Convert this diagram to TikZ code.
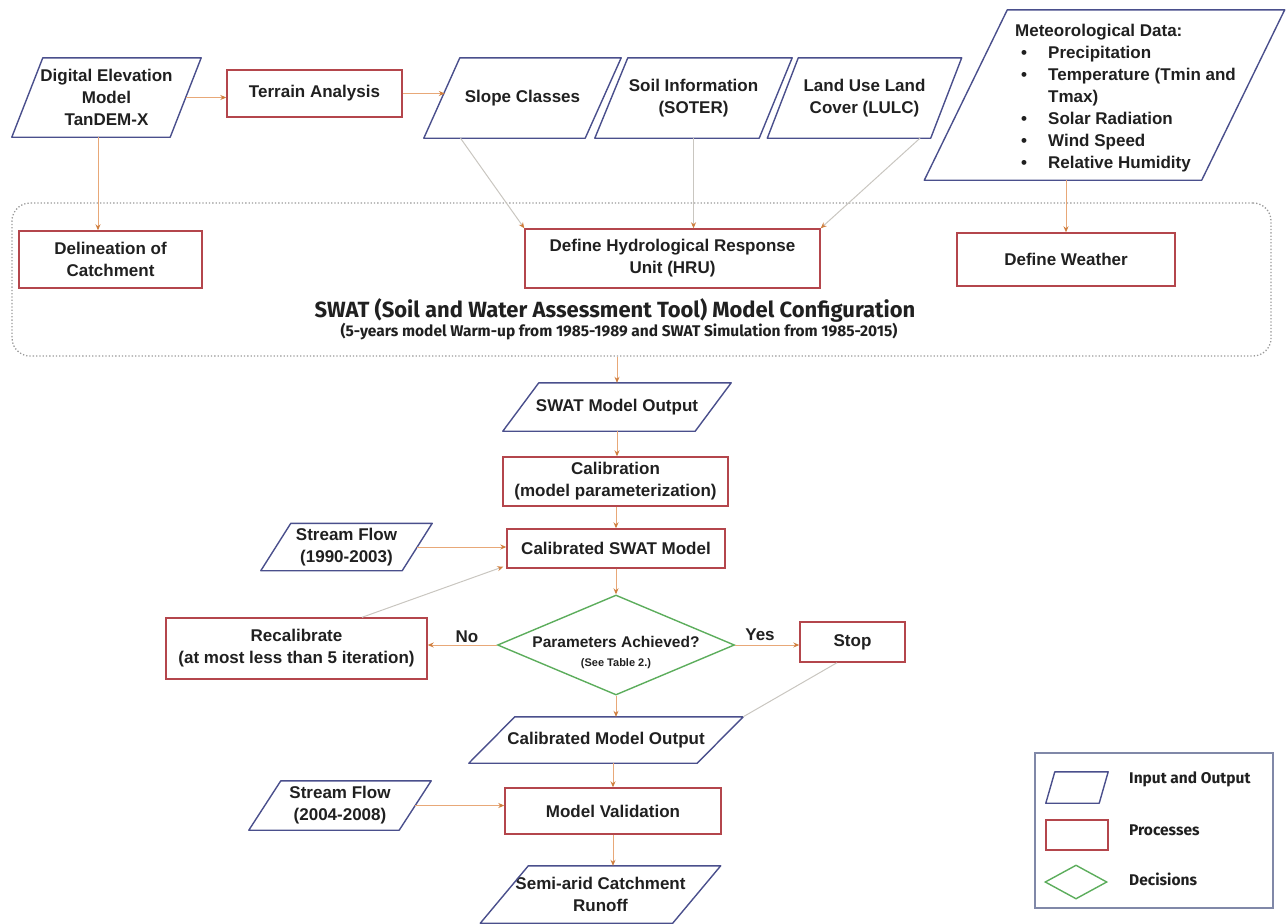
\documentclass[tikz,border=0pt]{standalone}
\usepackage{fontspec}
\setmainfont{Liberation Sans}
\newfontfamily\titlefont{Fira Sans}
\usetikzlibrary{arrows.meta,shapes.geometric,calc}
\definecolor{ionavy}{HTML}{4A4F8C}
\definecolor{procred}{HTML}{B4464C}
\definecolor{decgreen}{HTML}{5CAD5C}
\definecolor{arrline}{HTML}{E8A878}
\definecolor{arrtip}{HTML}{CF7E3E}
\definecolor{faint}{HTML}{C9C6C0}
\definecolor{txt}{HTML}{202020}
\definecolor{dotgray}{HTML}{9A9A9A}
\definecolor{legbord}{HTML}{8088A8}
\newcommand{\mf}{\fontsize{17}{22}\selectfont\bfseries}
\newcommand{\lf}{\titlefont\bfseries\fontsize{15.5}{18}\selectfont}
\newcommand{\ioshape}[2]{\draw[iobord] ($(#1.south west)+(-#2,0)$) -- ($(#1.south east)+(-#2,0)$) -- ($(#1.north east)+(#2,0)$) -- ($(#1.north west)+(#2,0)$) -- cycle;}
\begin{document}
\begin{tikzpicture}[x=1pt,y=-1pt,
  every node/.style={text=txt},
  proc/.style={draw=procred, line width=1.4pt, align=center, inner sep=2pt, font=\mf},
  io/.style={draw=none, align=center, inner sep=0pt, font=\mf},
  iobord/.style={draw=ionavy, line width=1.4pt, line join=round},
  dec/.style={diamond, draw=decgreen, line width=1.4pt, inner sep=0pt},
  arr/.style={draw=arrline, line width=1pt, -{Stealth[length=6pt,width=5pt,color=arrtip]}},
  faintarr/.style={draw=faint, line width=1pt, -{Stealth[length=6pt,width=5pt,color=arrtip]}},
  faintline/.style={draw=faint, line width=1pt}]
\useasboundingbox (0,0) rectangle (1286,924);

% configuration box
\node[draw=dotgray, dotted, line width=1.3pt, rounded corners=18pt, minimum width=1259, minimum height=153, inner sep=0] (cfg) at (641.5,279.5) {};

% top row
\node[io, minimum width=158, minimum height=79] (dem) at (106.5,97.5) {Digital Elevation\\Model\\TanDEM-X};
\ioshape{dem}{15.5}
\node[proc, minimum width=175, minimum height=47] (ter) at (314.5,93.5) {Terrain Analysis};
\node[io, minimum width=161, minimum height=80] (slope) at (522.5,98) {Slope Classes};
\ioshape{slope}{18}
\node[io, minimum width=164, minimum height=80] (soil) at (693.5,98) {Soil Information\\(SOTER)};
\ioshape{soil}{16.5}
\node[io, minimum width=163, minimum height=80] (lulc) at (864.5,98) {Land Use Land\\Cover (LULC)};
\ioshape{lulc}{15.5}
\node[io, minimum width=277, minimum height=170] (met) at (1104.5,95) {};
\ioshape{met}{41.5}
\node[anchor=north west, align=left, font=\mf, inner sep=0] (mettxt) at (1015,23.5) {Meteorological Data:\\
\hspace*{6pt}\makebox[27pt][l]{\textbullet}Precipitation\\
\hspace*{6pt}\makebox[27pt][l]{\textbullet}Temperature (Tmin and\\
\hspace*{33pt}Tmax)\\
\hspace*{6pt}\makebox[27pt][l]{\textbullet}Solar Radiation\\
\hspace*{6pt}\makebox[27pt][l]{\textbullet}Wind Speed\\
\hspace*{6pt}\makebox[27pt][l]{\textbullet}Relative Humidity};

% configuration contents
\node[proc, minimum width=183, minimum height=57] (del) at (110.5,259.5) {Delineation of\\Catchment};
\node[proc, minimum width=295, minimum height=59] (hru) at (672.5,258.5) {Define Hydrological Response\\Unit (HRU)};
\node[proc, minimum width=218, minimum height=53] (weather) at (1066,259.5) {Define Weather};
\node[font=\titlefont\bfseries\fontsize{22}{24}\selectfont, inner sep=0] (title) at (615,310) {SWAT (Soil and Water Assessment Tool) Model Configuration};
\node[font=\titlefont\bfseries\fontsize{15.5}{17}\selectfont, inner sep=0] (subtitle) at (619,332) {(5-years model Warm-up from 1985-1989 and SWAT Simulation from 1985-2015)};

% lower flow
\node[io, minimum width=192, minimum height=48] (swout) at (617,407) {SWAT Model Output};
\ioshape{swout}{18}
\node[proc, minimum width=225, minimum height=49] (calib) at (615.5,481.5) {Calibration\\(model parameterization)};
\node[proc, minimum width=218, minimum height=39] (calsw) at (616,548.5) {Calibrated SWAT Model};
\node[io, minimum width=141, minimum height=47] (sf1) at (346.5,547) {Stream Flow\\(1990-2003)};
\ioshape{sf1}{15}
\node[dec, minimum width=237, minimum height=100] (diam) at (616,645) {};
\node[font=\bfseries\fontsize{15.5}{18}\selectfont, inner sep=0] (diamtxt) at (616,642) {Parameters Achieved?};
\node[font=\bfseries\fontsize{11}{13}\selectfont, inner sep=0] (seetab) at (616,664) {(See Table 2.)};
\node[proc, minimum width=261, minimum height=61] (recal) at (296.5,648.5) {Recalibrate\\(at most less than 5 iteration)};
\node[proc, minimum width=105, minimum height=40] (stop) at (852.5,642) {Stop};
\node[font=\mf, inner sep=0] (nolab) at (467,637) {No};
\node[font=\mf, inner sep=0] (yeslab) at (760,635) {Yes};
\node[io, minimum width=228, minimum height=46] (calout) at (606,740) {Calibrated Model Output};
\ioshape{calout}{23}
\node[proc, minimum width=216, minimum height=46] (val) at (613,811) {Model Validation};
\node[io, minimum width=150, minimum height=49] (sf2) at (340,805.5) {Stream Flow\\(2004-2008)};
\ioshape{sf2}{16}
\node[io, minimum width=192, minimum height=57] (runoff) at (600.5,894.5) {Semi-arid Catchment\\Runoff};
\ioshape{runoff}{24}

% legend
\node[draw=legbord, line width=1.2pt, minimum width=238, minimum height=155, inner sep=0] (legend) at (1154,830.5) {};
\node[io, minimum width=53, minimum height=31] (legio) at (1077,787.5) {};
\ioshape{legio}{4.5}
\node[proc, minimum width=62, minimum height=30, inner sep=0] (legproc) at (1077,835) {};
\node[dec, minimum width=62, minimum height=34] (legdec) at (1076,882) {};
\node[anchor=base west, font=\lf, inner sep=0] (legl1) at (1129,783) {Input and Output};
\node[anchor=base west, font=\lf, inner sep=0] (legl2) at (1129,835) {Processes};
\node[anchor=base west, font=\lf, inner sep=0] (legl3) at (1129,885) {Decisions};

% connectors
\draw[arr] (dem.east) -- (dem.east -| ter.west);
\draw[arr] (ter.east) -- ([xshift=3]ter.east -| slope.west);
\draw[arr] ([xshift=-8.5]dem.south) -- ([xshift=-8.5]dem.south |- del.north);
\draw[faintarr] ([xshift=-62]slope.south) -- (hru.north west);
\draw[faintarr] (soil.south) -- (soil.south |- hru.north);
\draw[faintarr] ([xshift=55.5]lulc.south) -- (hru.north east);
\draw[arr] (weather.north |- met.south) -- (weather.north);
\draw[arr] (cfg.south -| swout.north) -- (swout.north);
\draw[arr] (swout.south) -- (swout.south |- calib.north);
\draw[arr] (calsw.north |- calib.south) -- (calsw.north);
\draw[arr] (sf1.east) -- (sf1.east -| calsw.west);
\draw[arr] (calsw.south) -- (diam.north);
\draw[arr] (diam.west) -- (diam.west -| recal.east);
\draw[arr] (diam.east) -- (diam.east -| stop.west);
\draw[faintarr] ([xshift=65.5]recal.north) -- ([shift={(-3,-2)}]calsw.south west);
\draw[faintline] ([xshift=-15.5]stop.south) -- ([xshift=23]calout.north east);
\draw[arr] (diam.south) -- (diam.south |- calout.north);
\draw[arr] (val.north |- calout.south) -- (val.north);
\draw[arr] (sf2.east) -- (sf2.east -| val.west);
\draw[arr] (val.south) -- (val.south |- runoff.north);
\end{tikzpicture}
\end{document}
